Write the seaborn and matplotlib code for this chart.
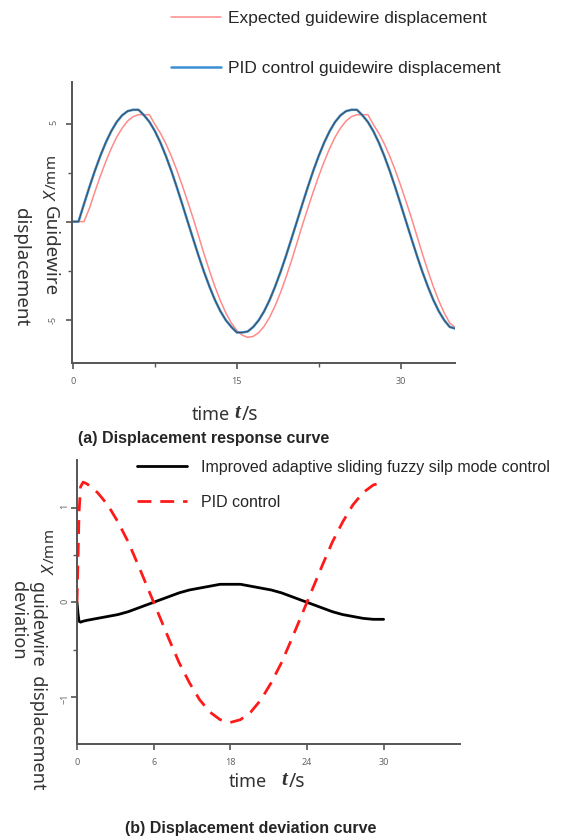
import matplotlib
matplotlib.use("Agg")
import matplotlib.pyplot as plt
import numpy as np
import pandas as pd
import seaborn as sns

# ---- data ----
# (a) displacement response, mm
time_a = [0, 0.5, 1, 1.5, 2, 2.5, 3, 3.5, 4, 4.5,
          5, 5.5, 6, 6.5, 7, 7.5, 8, 8.5, 9, 9.5,
          10, 10.5, 11, 11.5, 12, 12.5, 13, 13.5, 14, 14.5,
          15, 15.5, 16, 16.5, 17, 17.5, 18, 18.5, 19, 19.5,
          20, 20.5, 21, 21.5, 22, 22.5, 23, 23.5, 24, 24.5,
          25, 25.5, 26, 26.5, 27, 27.5, 28, 28.5, 29, 29.5,
          30, 30.5, 31, 31.5, 32, 32.5, 33, 33.5, 34, 34.5, 35]
expected_a = [0, 0, 0, 0.68, 1.52, 2.32, 3.06, 3.73, 4.31, 4.77,
              5.13, 5.35, 5.45, 5.45, 5.45, 4.95, 4.51, 3.97, 3.34, 2.63,
              1.85, 1.02, 0.17, -0.74, -1.65, -2.51, -3.32, -4.04, -4.66, -5.17,
              -5.55, -5.79, -5.90, -5.85, -5.66, -5.34, -4.88, -4.30, -3.62, -2.84,
              -2.00, -1.10, -0.18, 0.68, 1.52, 2.32, 3.06, 3.73, 4.31, 4.77,
              5.13, 5.35, 5.45, 5.45, 5.45, 4.95, 4.51, 3.97, 3.34, 2.63,
              1.85, 1.02, 0.17, -0.74, -1.65, -2.51, -3.32, -4.04, -4.66, -5.17, -5.40]
pid_a = [0, 0, 0.89, 1.76, 2.59, 3.35, 4.03, 4.61, 5.08, 5.42,
         5.63, 5.70, 5.70, 5.42, 5.08, 4.61, 4.03, 3.35, 2.59, 1.76,
         0.89, 0.00, -0.88, -1.75, -2.57, -3.32, -4.00, -4.57, -5.03, -5.37,
         -5.65, -5.65, -5.60, -5.37, -5.03, -4.57, -4.00, -3.32, -2.57, -1.75,
         -0.88, 0.00, 0.89, 1.76, 2.59, 3.35, 4.03, 4.61, 5.08, 5.42,
         5.63, 5.70, 5.70, 5.42, 5.08, 4.61, 4.03, 3.35, 2.59, 1.76,
         0.89, 0.00, -0.88, -1.75, -2.57, -3.32, -4.00, -4.57, -5.03, -5.37, -5.45]
ytick_lab_a = ["-5", "", "5"]

# (b) displacement deviation, mm
time_b = [0, 0.1, 0.2, 0.35, 0.6, 1, 2, 3, 4, 5, 6, 7, 8, 9, 10,
          11, 12, 13, 14, 15, 16, 17, 18, 19, 20, 21, 22, 23, 24, 25,
          26, 27, 28, 29, 30]
smc_b = [0, -0.12, -0.20, -0.21, -0.20, -0.19, -0.17, -0.15, -0.13, -0.10,
         -0.06, -0.02, 0.02, 0.06, 0.10, 0.13, 0.15, 0.17, 0.19, 0.19,
         0.19, 0.17, 0.15, 0.13, 0.10, 0.06, 0.02, -0.02, -0.06, -0.10,
         -0.13, -0.15, -0.17, -0.18, -0.18]
pid_b = [0, 0.45, 0.95, 1.22, 1.27, 1.25, 1.16, 1.03, 0.85, 0.64,
         0.39, 0.13, -0.13, -0.39, -0.64, -0.85, -1.03, -1.16, -1.24, -1.27,
         -1.24, -1.16, -1.03, -0.85, -0.64, -0.39, -0.13, 0.13, 0.39, 0.64,
         0.85, 1.03, 1.16, 1.24, 1.27]
xtick_pos_b = [0, 7.5, 15, 22.5, 30]
xtick_lab_b = ["0", "6", "18", "24", "30"]

df_a = pd.DataFrame({"t": time_a, "expected": expected_a, "pid": pid_a})
df_b = pd.DataFrame({"t": time_b, "smc": smc_b, "pid": pid_b})

sns.set_style("white")
plt.rcParams["font.family"] = ["Noto Sans", "DejaVu Sans"]

fig = plt.figure(figsize=(5.62, 8.4), dpi=100)
ax1 = fig.add_axes([0.128, 0.568, 0.682, 0.334])
ax2 = fig.add_axes([0.137, 0.114, 0.682, 0.338])

# ---- panel (a) ----
sns.lineplot(data=df_a, x="t", y="expected", ax=ax1, color="#ff8a8a", linewidth=1.1,
             label="Expected guidewire displacement")
sns.lineplot(data=df_a, x="t", y="pid", ax=ax1, color="#3a8fd4", linewidth=1.8,
             label="PID control guidewire displacement")
sns.lineplot(data=df_a, x="t", y="pid", ax=ax1, color="#4a4a4a", linewidth=0.7)
h1, l1 = ax1.get_legend_handles_labels()
ax1.get_legend().remove()

ax1.set_xlim(-0.1, 35)
ax1.set_ylim(-7.2, 7.1)
ax1.set_xticks([0, 15, 30])
ax1.set_xticks([7.5, 22.5], minor=True)
ax1.set_yticks([-5, 0, 5])
ax1.set_yticklabels(ytick_lab_a)
ax1.set_yticks([-2.5, 2.5], minor=True)

# ---- panel (b) ----
sns.lineplot(data=df_b, x="t", y="smc", ax=ax2, color="black", linewidth=2.0,
             label="Improved adaptive sliding fuzzy silp mode control")
sns.lineplot(data=df_b, x="t", y="pid", ax=ax2, color="#ff1a1a", linewidth=2.0,
             linestyle=(0, (5, 3.2)), label="PID control")
h2, l2 = ax2.get_legend_handles_labels()
ax2.get_legend().remove()

ax2.set_xlim(0, 37.5)
ax2.set_ylim(-1.5, 1.5)
ax2.set_xticks(xtick_pos_b)
ax2.set_xticklabels(xtick_lab_b)
ax2.set_yticks([-1, 0, 1])
ax2.set_yticks([-0.5, 0.5], minor=True)

for ax in (ax1, ax2):
    sns.despine(ax=ax)
    for s in ("left", "bottom"):
        ax.spines[s].set_color("#555555")
        ax.spines[s].set_linewidth(1.4)
    ax.set_xlabel("")
    ax.set_ylabel("")
    ax.tick_params(which="major", direction="out", length=4, width=1.2, color="#555555",
                   labelsize=6.5, labelcolor="#666666", bottom=True, left=True, pad=6)
    ax.tick_params(which="minor", direction="out", length=3, width=1.0, color="#555555",
                   bottom=True, left=True)
    ax.tick_params(axis="y", labelrotation=90)
ax2.tick_params(axis="y", which="major", pad=1.5)

# legends
fig.legend(h1, l1, loc="upper left", bbox_to_anchor=(171 / 562, 1 - 11 / 840),
           frameon=False, prop={"family": "Liberation Sans", "size": 12.5},
           handlelength=2.9, handletextpad=0.4, labelspacing=2.0,
           borderpad=0, borderaxespad=0)
fig.legend(h2, l2, loc="upper left", bbox_to_anchor=(137 / 562, 1 - 460 / 840),
           frameon=False, prop={"family": "Liberation Sans", "size": 11.5},
           handlelength=3.1, handletextpad=0.9, labelspacing=1.25,
           borderpad=0, borderaxespad=0)

# axis labels
lab_col = "#333333"
fig.text(52 / 562, 1 - 178 / 840, "$X$/mm", rotation=90, ha="center", va="center",
         fontsize=11, color=lab_col)
fig.text(50 / 562, 1 - 206 / 840, "Guidewire", rotation=-90,
         ha="center", va="top", fontsize=13.5, color=lab_col)
fig.text(21 / 562, 1 - 208 / 840, "displacement", rotation=-90,
         ha="center", va="top", fontsize=13.5, color=lab_col)
fig.text(230 / 562, 1 - 415 / 840, "time", ha="right", va="center", fontsize=13,
         color=lab_col)
fig.text(234 / 562, 1 - 413 / 840, "t", ha="left", va="center", fontsize=15,
         style="italic", weight="bold", family="Liberation Serif", color=lab_col)
fig.text(242 / 562, 1 - 415 / 840, "/s", ha="left", va="center", fontsize=14,
         color=lab_col)
fig.text(78 / 562, 1 - 438 / 840, "(a) Displacement response curve", ha="left",
         va="center", fontsize=11.5, weight="bold", family="Liberation Sans")

fig.text(50 / 562, 1 - 552 / 840, "$X$/mm", rotation=90, ha="center", va="center",
         fontsize=11, color=lab_col)
fig.text(28 / 562, 1 - 581 / 840, "guidewire  displacement\ndeviation", rotation=-90,
         ha="center", va="top", multialignment="left", fontsize=13, color=lab_col,
         linespacing=1.1)
fig.text(267 / 562, 1 - 782 / 840, "time", ha="right", va="center", fontsize=13,
         color=lab_col)
fig.text(281 / 562, 1 - 780 / 840, "t", ha="left", va="center", fontsize=15,
         style="italic", weight="bold", family="Liberation Serif", color=lab_col)
fig.text(289 / 562, 1 - 782 / 840, "/s", ha="left", va="center", fontsize=14,
         color=lab_col)
fig.text(125 / 562, 1 - 828 / 840, "(b) Displacement deviation curve", ha="left",
         va="center", fontsize=11.5, weight="bold", family="Liberation Sans")

fig.savefig("out.png", dpi=100)
